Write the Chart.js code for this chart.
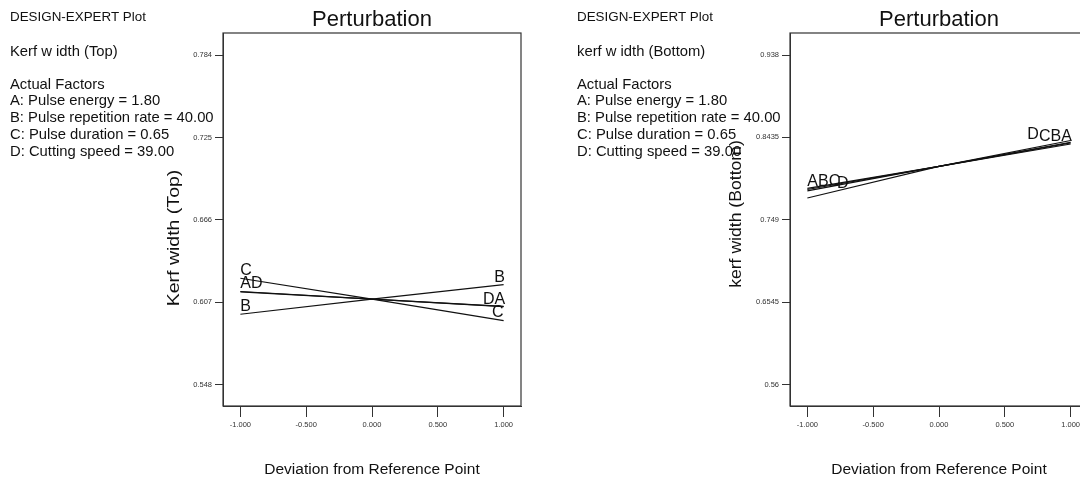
<!DOCTYPE html>
<html>
<head>
<meta charset="utf-8">
<title>Perturbation</title>
<script src="https://cdn.jsdelivr.net/npm/chart.js@4.4.0/dist/chart.umd.min.js"></script>
<style>
    html, body { margin: 0; padding: 0; background: #fff; }
    #wrap { position: relative; width: 1080px; height: 487px; overflow: hidden; }
    .panel { position: absolute; top: 0; height: 487px; width: 540px; overflow: hidden; }
    #p1 { left: 0; }
    #p2 { left: 540px; }
    canvas { display: block; }
</style>
</head>
<body>
<div id="wrap">
    <div class="panel" id="p1"><canvas id="topChart" width="540" height="487"></canvas></div>
    <div class="panel" id="p2"><canvas id="bottomChart" width="560" height="487"></canvas></div>
</div>
<script>
// Deviation from reference point (coded factor levels)
const deviation = [-1, 0, 1];
const xTicks = [-1, -0.5, 0, 0.5, 1];

// Kerf width (Top), one line per factor
const topA = [0.6147, 0.6092, 0.6038];
const topB = [0.5984, 0.6092, 0.6196];
const topC = [0.6242, 0.6092, 0.5938];
const topD = [0.6144, 0.6092, 0.6040];
const topTicks = [0.548, 0.607, 0.666, 0.725, 0.784];

// kerf width (Bottom), one line per factor
const botA = [0.7850, 0.8102, 0.8360];
const botB = [0.7838, 0.8102, 0.8372];
const botC = [0.7821, 0.8102, 0.8380];
const botD = [0.7740, 0.8102, 0.8400];
const botTicks = [0.56, 0.6545, 0.749, 0.8435, 0.938];

const factorText = [
    'A: Pulse energy = 1.80',
    'B: Pulse repetition rate = 40.00',
    'C: Pulse duration = 0.65',
    'D: Cutting speed = 39.00'
];

const FONT = '"Liberation Sans", Arial, sans-serif';
const INK = '#111';

// text settings per canvas (kept out of the chart options)
const panelSettings = {
    topChart: {
        noteX: 10,
        response: 'Kerf w idth (Top)',
        yTitle: 'Kerf width (Top)',
        yTitleX: 175,
        yTitleY: 238,
        yTitleStretch: 1.22,
        labels: [
            { text: 'C', ds: 'C', x: -1, at: -1, align: 'left', dy: -3 },
            { text: 'AD', ds: 'A', x: -1, at: -1, align: 'left', dy: -3 },
            { text: 'B', ds: 'B', x: -1, at: -1, align: 'left', dy: -3.5 },
            { text: 'B', ds: 'B', x: 1.01, at: 1, align: 'right', dy: -3 },
            { text: 'DA', ds: 'A', x: 1.012, at: 1, align: 'right', dy: -3 },
            { text: 'C', ds: 'C', x: 1.0, at: 1, align: 'right', dy: -4 }
        ]
    },
    bottomChart: {
        noteX: 37,
        response: 'kerf w idth (Bottom)',
        yTitle: 'kerf width (Bottom)',
        yTitleX: 197,
        yTitleY: 214,
        yTitleStretch: 1.1,
        labels: [
            { text: 'ABC', ds: 'B', x: -1, at: -1, align: 'left', dy: -3.3 },
            { text: 'D', ds: 'D', x: -0.775, at: -0.775, align: 'left', dy: -2.5 },
            { text: 'CBA', ds: 'B', x: 1.01, at: 1, align: 'right', dy: -2 },
            { text: 'D', ds: 'D', x: 0.671, at: 1, align: 'left', dy: -1.5 }
        ]
    }
};

// value of a dataset at some x (straight segments between points)
function valueAt(points, x) {
    for (let i = 0; i < points.length - 1; i++) {
        const p0 = points[i], p1 = points[i + 1];
        if (x <= p1.x || i === points.length - 2) {
            const t = (x - p0.x) / (p1.x - p0.x);
            return p0.y + t * (p1.y - p0.y);
        }
    }
    return points[0].y;
}

// frame, titles, factor notes and the letters at the line ends
const panelPlugin = {
    id: 'panelText',
    afterDraw(chart) {
        const opts = panelSettings[chart.canvas.id];
        const ctx = chart.ctx;
        const area = chart.chartArea;
        const xs = chart.scales.x, ys = chart.scales.y;
        ctx.save();

        ctx.strokeStyle = '#333';
        ctx.lineWidth = 1.2;
        ctx.strokeRect(area.left, area.top, area.right - area.left, area.bottom - area.top);

        ctx.fillStyle = INK;
        ctx.textBaseline = 'middle';
        ctx.textAlign = 'left';
        ctx.font = '13.4px ' + FONT;
        ctx.fillText('DESIGN-EXPERT Plot', opts.noteX, 17);
        ctx.font = '14.8px ' + FONT;
        ctx.fillText(opts.response, opts.noteX, 52);
        ctx.fillText('Actual Factors', opts.noteX, 85);
        factorText.forEach((t, i) => ctx.fillText(t, opts.noteX, 101 + i * 17));

        // main title
        ctx.textAlign = 'center';
        ctx.font = '22px ' + FONT;
        ctx.fillText('Perturbation', (area.left + area.right) / 2, 20);

        // axis titles
        ctx.font = '15.5px ' + FONT;
        ctx.fillText('Deviation from Reference Point', (area.left + area.right) / 2, 470);
        ctx.font = '16px ' + FONT;
        ctx.save();
        ctx.translate(opts.yTitleX, opts.yTitleY);
        ctx.rotate(-Math.PI / 2);
        ctx.scale(opts.yTitleStretch, 1);
        ctx.fillText(opts.yTitle, 0, 0);
        ctx.restore();

        // factor letters
        ctx.font = '16px ' + FONT;
        ctx.textBaseline = 'alphabetic';
        opts.labels.forEach(l => {
            const ds = chart.data.datasets.find(d => d.label === l.ds);
            const py = ys.getPixelForValue(valueAt(ds.data, l.at)) + l.dy;
            ctx.textAlign = l.align;
            ctx.fillText(l.text, xs.getPixelForValue(l.x), py);
        });
        ctx.restore();
    }
};

function lineSet(label, data) {
    return {
        label: label,
        data: deviation.map((x, i) => ({ x: x, y: data[i] })),
        borderColor: INK,
        borderWidth: 1.2,
        pointRadius: 0,
        tension: 0,
        fill: false
    };
}

function makeChart(id, sets, yMin, yMax, yTicks, padRight, yWidth) {
    const ctx = document.getElementById(id).getContext('2d');
    return new Chart(ctx, {
        type: 'line',
        data: { datasets: sets },
        options: {
            responsive: false,
            animation: false,
            devicePixelRatio: 1,
            layout: { padding: { left: 0, top: 33, right: padRight, bottom: 0 } },
            plugins: {
                legend: { display: false },
                tooltip: { enabled: false }
            },
            scales: {
                x: {
                    type: 'linear',
                    min: -1.132,
                    max: 1.132,
                    afterBuildTicks: s => { s.ticks = xTicks.map(v => ({ value: v })); },
                    afterFit: s => { s.height = 81; },
                    grid: { drawOnChartArea: false, drawTicks: true, tickLength: 11, tickColor: '#333', lineWidth: 1 },
                    border: { display: true, color: '#333', width: 1 },
                    ticks: {
                        font: { family: FONT, size: 7.5 },
                        color: '#333',
                        padding: 3,
                        maxRotation: 0,
                        autoSkip: false,
                        callback: v => Number(v).toFixed(3)
                    }
                },
                y: {
                    type: 'linear',
                    min: yMin,
                    max: yMax,
                    afterBuildTicks: s => { s.ticks = yTicks.map(v => ({ value: v })); },
                    afterFit: s => { s.width = yWidth; },
                    grid: { drawOnChartArea: false, drawTicks: true, tickLength: 8, tickColor: '#333', lineWidth: 1 },
                    border: { display: true, color: '#333', width: 1 },
                    ticks: {
                        font: { family: FONT, size: 7.5 },
                        color: '#333',
                        padding: 3,
                        autoSkip: false,
                        callback: v => String(v)
                    }
                }
            }
        },
        plugins: [panelPlugin]
    });
}

// Kerf width (Top)
const topChart = makeChart('topChart',
    [lineSet('A', topA), lineSet('B', topB), lineSet('C', topC), lineSet('D', topD)],
    0.5327, 0.7998, topTicks, 19, 223);

// kerf width (Bottom)
const bottomChart = makeChart('bottomChart',
    [lineSet('A', botA), lineSet('B', botB), lineSet('C', botC), lineSet('D', botD)],
    0.5354, 0.9633, botTicks, 12, 250);
</script>
</body>
</html>
